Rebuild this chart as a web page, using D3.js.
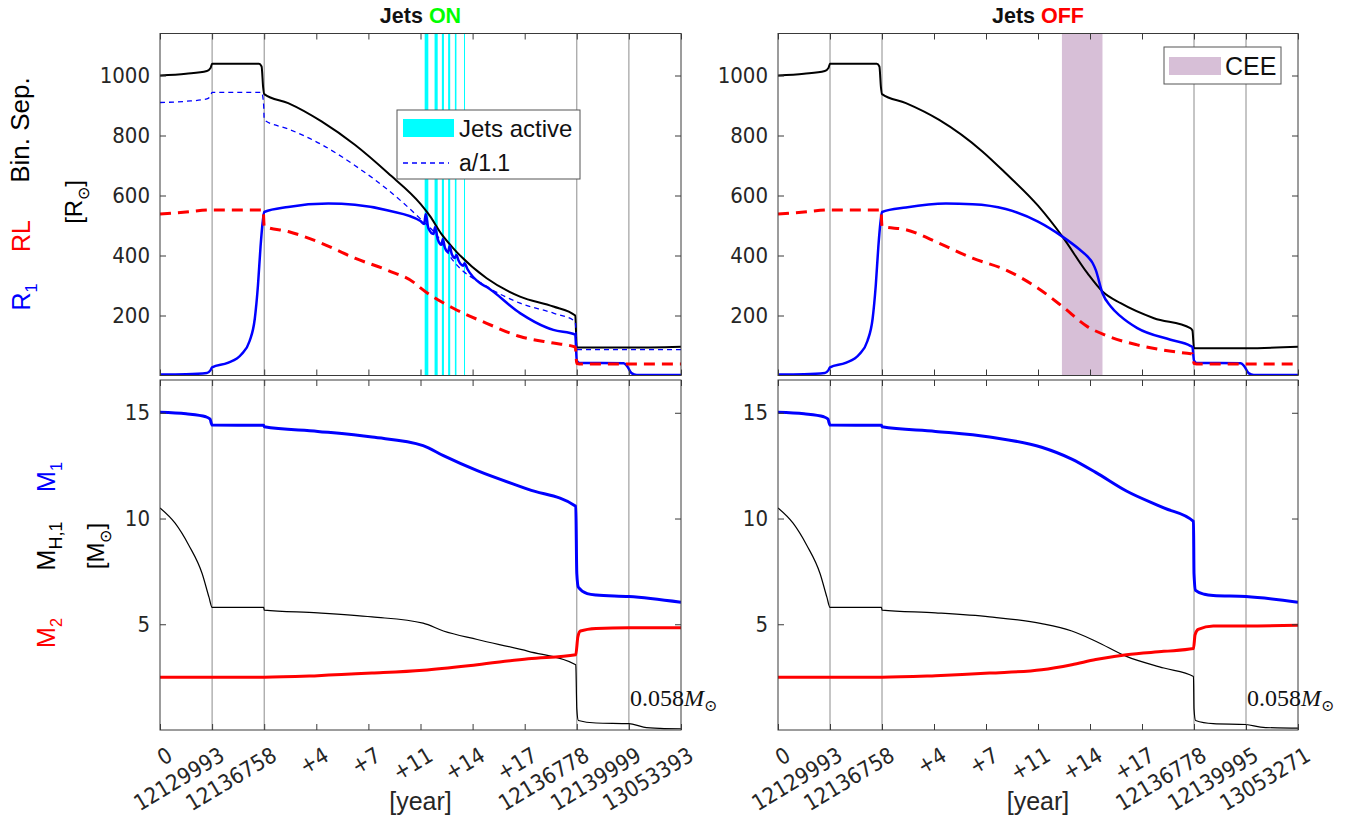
<!DOCTYPE html>
<html><head><meta charset="utf-8">
<script src="https://cdn.jsdelivr.net/npm/d3@7"></script>
<style>
body{margin:0;background:#fff;}
svg{display:block;font-family:"Liberation Sans",Arial,sans-serif;}
</style>
</head><body>
<svg id="c" width="1357" height="821"></svg>
<script>
// ---------------- data ----------------
const xTicks = [0,1,2,3,4,5,6,7,8,9,10];
const xTickLabelsOn  = ["0","12129993","12136758","+4","+7","+11","+14","+17","12136778","12139999","13053393"];
const xTickLabelsOff = ["0","12129993","12136758","+4","+7","+11","+14","+17","12136778","12139995","13053271"];
const phaseBoundaries = [1,2,8,9];
const sepTicks = [200,400,600,800,1000];
const massTicks = [5,10,15];
const jetsIntervals = [[5.08,5.15],[5.27,5.33],[5.41,5.45],[5.53,5.57],[5.66,5.69],[5.835,5.85]];
const ceeInterval = [5.46,6.24];

// Jets ON (top panel) [stage index, value]
const sepOn = [[0,1000],[0.5,1006],[0.9,1015],[0.97,1025],[1.0,1039],[1.9,1039],[1.95,1030],[1.98,960],[2.0,938],[2.46,908],[3.1,847],[3.74,769],[4.38,674],[5.0,572],[5.18,532],[5.4,472],[5.63,424],[6.27,324],[6.91,263],[7.55,230],[7.97,200],[8.0,93],[9.0,93],[10,96]];
const aOn   = [[0,910],[0.5,914],[0.9,922],[0.97,932],[1.0,944],[1.95,944],[1.99,900],[2.0,852],[2.46,822],[3.1,770],[3.74,700],[4.38,618],[5.0,522],[5.3,470],[5.63,382],[6.27,297],[6.91,241],[7.55,208],[7.97,180],[8.0,86],[10,86]];
const r1On  = [[0,3],[0.5,4],[0.9,8],[0.97,18],[1.0,27],[1.3,42],[1.56,70],[1.72,115],[1.82,190],[1.88,300],[1.93,430],[1.97,510],[2.0,545],[2.46,562],[3.23,573],[3.74,569],[4.38,550],[5.0,515],[5.07,505],[5.10,538],[5.15,492],[5.25,472],[5.28,495],[5.33,455],[5.40,436],[5.43,455],[5.47,425],[5.53,412],[5.56,432],[5.60,405],[5.66,392],[5.69,402],[5.73,383],[5.82,366],[5.845,374],[5.9,355],[6.14,308],[6.27,295],[6.91,208],[7.42,160],[7.55,152],[7.97,136],[8.0,50],[8.05,42],[8.9,41],[8.97,30],[9.05,8],[9.15,2],[10,2]];
const rlOn  = [[0,538],[0.5,545],[1.0,552],[1.98,552],[2.0,497],[2.46,480],[3.1,441],[3.74,391],[4.38,350],[4.89,308],[5.0,292],[5.63,224],[6.27,174],[6.91,130],[7.55,108],[7.97,95],[8.0,40],[8.1,38],[10,38]];
// Jets ON (bottom panel)
const m1On  = [[0,15.02],[0.5,14.95],[0.88,14.81],[0.96,14.7],[1.0,14.42],[1.99,14.41],[2.0,14.34],[3.03,14.12],[4.07,13.85],[5.05,13.45],[5.44,12.97],[6.09,12.26],[7.07,11.38],[7.98,10.58],[8.0,7.4],[8.03,6.75],[8.2,6.45],[8.37,6.38],[9.0,6.31],[10,6.04]];
const mh1On = [[0,10.5],[0.29,9.78],[0.55,8.75],[0.81,7.39],[0.94,6.28],[1.0,5.8],[1.99,5.8],[2.0,5.67],[3.03,5.54],[4.07,5.35],[5.05,5.05],[5.44,4.68],[6.09,4.28],[7.07,3.72],[7.98,3.09],[8.0,1.0],[8.03,0.45],[8.37,0.33],[9.0,0.30],[9.28,0.14],[9.6,0.08],[10,0.06]];
const m2On  = [[0,2.5],[2.0,2.5],[3.03,2.57],[4.07,2.69],[5.05,2.83],[6.09,3.09],[7.07,3.37],[7.98,3.56],[8.02,4.4],[8.07,4.68],[8.37,4.8],[9,4.84],[10,4.84]];

// Jets OFF (top panel)
const sepOff = [[0,1000],[0.5,1006],[0.9,1015],[0.97,1025],[1.0,1039],[1.9,1039],[1.95,1030],[1.98,960],[2.0,938],[2.46,908],[3.1,852],[3.93,747],[4.38,674],[5.0,566],[5.47,463],[5.95,341],[6.24,280],[6.59,241],[7.23,191],[7.93,158],[7.97,150],[8.0,91],[9.0,91],[10,96]];
const r1Off  = [[0,3],[0.5,4],[0.9,8],[0.97,18],[1.0,27],[1.3,42],[1.56,70],[1.72,115],[1.82,190],[1.88,300],[1.93,430],[1.97,510],[2.0,545],[2.46,560],[3.23,573],[3.74,571],[4.38,555],[5.0,513],[5.47,463],[5.8,420],[5.95,397],[6.05,375],[6.11,352],[6.24,274],[6.4,230],[6.59,197],[6.91,158],[7.55,119],[7.93,99],[7.97,95],[8.0,50],[8.05,42],[8.9,41],[8.97,30],[9.05,8],[9.15,2],[10,2]];
const rlOff  = [[0,538],[0.5,545],[1.0,552],[1.98,552],[2.0,497],[2.46,486],[3.1,441],[3.74,391],[4.38,352],[5.0,291],[5.47,230],[5.95,163],[6.27,136],[6.91,102],[7.87,74],[7.97,72],[8.0,40],[8.1,38],[10,38]];
// Jets OFF (bottom panel)
const m1Off  = [[0,15.02],[0.5,14.95],[0.88,14.81],[0.96,14.7],[1.0,14.42],[1.99,14.41],[2.0,14.34],[3.03,14.12],[4.07,13.85],[5.07,13.37],[5.65,12.81],[6.11,12.18],[6.7,11.3],[7.42,10.5],[7.99,9.86],[8.0,7.4],[8.03,6.6],[8.2,6.42],[8.37,6.36],[9,6.31],[10,6.04]];
const mh1Off = [[0,10.5],[0.29,9.78],[0.55,8.75],[0.81,7.39],[0.94,6.28],[1.0,5.8],[1.99,5.8],[2.0,5.67],[3.03,5.54],[4.07,5.35],[5.07,5.03],[5.65,4.68],[6.11,4.2],[6.7,3.48],[7.42,2.93],[7.99,2.53],[8.0,1.0],[8.03,0.45],[8.37,0.30],[9.0,0.26],[9.28,0.14],[9.6,0.1],[10,0.09]];
const m2Off  = [[0,2.5],[2.0,2.5],[3.03,2.57],[4.07,2.69],[5.07,2.85],[5.65,3.09],[6.11,3.33],[6.7,3.56],[7.42,3.72],[7.99,3.85],[8.02,4.5],[8.08,4.76],[8.37,4.92],[9,4.92],[10,4.95]];

const finalMassLabel = "0.058";

// ---------------- layout ----------------
const svg = d3.select("#c");
const BLUE="#0000ff", RED="#ff0000", AXC="#3a3a3a", PHASE="#8c8c8c";
const TICKFONT = "'DejaVu Sans Condensed','Liberation Sans Narrow',sans-serif";
const topRange=[375.5,33.5], botRange=[730,380];
const runs = [
  {x0:160,x1:681,state:"ON",stateColor:"#00ff00",labels:xTickLabelsOn,sep:sepOn,a:aOn,r1:r1On,rl:rlOn,m1:m1On,mh1:mh1On,m2:m2On,jets:true},
  {x0:778,x1:1298,state:"OFF",stateColor:"#ff0000",labels:xTickLabelsOff,sep:sepOff,a:null,r1:r1Off,rl:rlOff,m1:m1Off,mh1:mh1Off,m2:m2Off,jets:false}
];
const defs = svg.append("defs");

runs.forEach((run,ri)=>{
  const x = d3.scaleLinear().domain([0,10]).range([run.x0,run.x1]);
  const yS = d3.scaleLinear().domain([0,1140]).range(topRange);
  const yM = d3.scaleLinear().domain([0,16.55]).range(botRange);

  [["t",topRange],["b",botRange]].forEach(([k,r])=>{
    defs.append("clipPath").attr("id",`clip${k}${ri}`).append("rect")
      .attr("x",run.x0).attr("y",r[1]).attr("width",run.x1-run.x0).attr("height",r[0]-r[1]);
  });

  // title
  const t = svg.append("text").attr("x",(run.x0+run.x1)/2).attr("y",23)
    .attr("text-anchor","middle").attr("font-weight","bold").attr("font-size",21.5);
  t.append("tspan").attr("fill","#111").text("Jets ");
  t.append("tspan").attr("fill",run.stateColor).text(run.state);

  // --- TOP PANEL ---
  const gt = svg.append("g");
  const gtc = gt.append("g").attr("clip-path",`url(#clipt${ri})`);
  if(run.jets){
    gtc.selectAll("rect.jet").data(jetsIntervals).join("rect").attr("class","jet")
      .attr("x",d=>x(d[0])).attr("width",d=>Math.max(1,x(d[1])-x(d[0])))
      .attr("y",topRange[1]).attr("height",topRange[0]-topRange[1]).attr("fill","#00ffff");
  } else {
    gtc.append("rect").attr("x",x(ceeInterval[0])).attr("width",x(ceeInterval[1])-x(ceeInterval[0]))
      .attr("y",topRange[1]).attr("height",topRange[0]-topRange[1]).attr("fill","#d7bfd7");
  }
  gtc.selectAll("line.ph").data(phaseBoundaries).join("line").attr("class","ph")
    .attr("x1",d=>x(d)).attr("x2",d=>x(d)).attr("y1",topRange[0]).attr("y2",topRange[1])
    .attr("stroke",PHASE).attr("stroke-width",1);
  const lt = d3.line().x(d=>x(d[0])).y(d=>yS(d[1])).curve(d3.curveMonotoneX);
  gtc.append("path").attr("d",lt(run.sep)).attr("fill","none").attr("stroke","#000").attr("stroke-width",2);
  if(run.a) gtc.append("path").attr("d",lt(run.a)).attr("fill","none").attr("stroke",BLUE).attr("stroke-width",1.3).attr("stroke-dasharray","5,4");
  gtc.append("path").attr("d",lt(run.r1)).attr("fill","none").attr("stroke",BLUE).attr("stroke-width",2.5);
  gtc.append("path").attr("d",lt(run.rl)).attr("fill","none").attr("stroke",RED).attr("stroke-width",3).attr("stroke-dasharray","11,7");

  // --- BOTTOM PANEL ---
  const gb = svg.append("g");
  const gbc = gb.append("g").attr("clip-path",`url(#clipb${ri})`);
  gbc.selectAll("line.ph").data(phaseBoundaries).join("line").attr("class","ph")
    .attr("x1",d=>x(d)).attr("x2",d=>x(d)).attr("y1",botRange[0]).attr("y2",botRange[1])
    .attr("stroke",PHASE).attr("stroke-width",1);
  const lb = d3.line().x(d=>x(d[0])).y(d=>yM(d[1])).curve(d3.curveMonotoneX);
  gbc.append("path").attr("d",lb(run.mh1)).attr("fill","none").attr("stroke","#000").attr("stroke-width",1.2);
  gbc.append("path").attr("d",lb(run.m1)).attr("fill","none").attr("stroke",BLUE).attr("stroke-width",3);
  gbc.append("path").attr("d",lb(run.m2)).attr("fill","none").attr("stroke",RED).attr("stroke-width",3);

  function axes(g, y, yTicks, range){
    const ax = g.append("g").attr("class","ax");
    ax.append("g").attr("transform",`translate(${run.x0},0)`).call(d3.axisLeft(y).tickValues(yTicks).tickFormat(d3.format("d")).tickSizeInner(-6).tickSizeOuter(0).tickPadding(10));
    ax.append("g").attr("transform",`translate(${run.x1},0)`).call(d3.axisRight(y).tickValues(yTicks).tickSizeInner(-6).tickSizeOuter(0).tickFormat(""));
    ax.append("g").attr("transform",`translate(0,${range[0]})`).call(d3.axisBottom(x).tickValues(xTicks).tickSizeInner(-6).tickSizeOuter(0).tickFormat(""));
    ax.append("g").attr("transform",`translate(0,${range[1]})`).call(d3.axisTop(x).tickValues(xTicks).tickSizeInner(-6).tickSizeOuter(0).tickFormat(""));
    ax.selectAll(".domain").remove();
    ax.selectAll("line").attr("stroke",AXC);
    ax.selectAll("text").attr("font-size",22).attr("fill","#262626").attr("font-family",TICKFONT);
    g.append("rect").attr("x",run.x0).attr("y",range[1]).attr("width",run.x1-run.x0).attr("height",range[0]-range[1])
      .attr("fill","none").attr("stroke",AXC).attr("stroke-width",1);
  }
  axes(gt, yS, sepTicks, topRange);
  axes(gb, yM, massTicks, botRange);

  // x tick labels (rotated)
  svg.append("g").selectAll("text").data(run.labels).join("text")
    .attr("transform",(d,i)=>`translate(${x(xTicks[i])+10},${753}) rotate(-31)`)
    .attr("text-anchor","end").attr("dy","0.35em").attr("font-size",22)
    .attr("font-family",TICKFONT).attr("fill","#262626")
    .text(d=>d);
  svg.append("text").attr("x",(run.x0+run.x1)/2).attr("y",810).attr("text-anchor","middle")
    .attr("font-size",25).attr("fill","#262626").text("[year]");

  // final mass annotation
  const fm = svg.append("text").attr("x",x(9)+1).attr("y",706).attr("font-family","'Liberation Serif','DejaVu Serif',serif").attr("font-size",24).attr("fill","#111");
  fm.append("tspan").text(finalMassLabel);
  fm.append("tspan").attr("font-style","italic").text("M");
  fm.append("tspan").attr("font-size",16).attr("dy",5).text("⊙");

  // legends
  if(run.jets){
    const lg = svg.append("g");
    lg.append("rect").attr("x",397).attr("y",110).attr("width",183).attr("height",69).attr("fill","#fff").attr("stroke","#555");
    lg.append("rect").attr("x",403).attr("y",119).attr("width",51).attr("height",18).attr("fill","#00ffff");
    lg.append("text").attr("x",459).attr("y",137).attr("font-size",24).attr("fill","#111").text("Jets active");
    lg.append("line").attr("x1",403).attr("x2",449).attr("y1",163).attr("y2",163).attr("stroke",BLUE).attr("stroke-width",1.3).attr("stroke-dasharray","5,4");
    lg.append("text").attr("x",459).attr("y",171).attr("font-size",23).attr("fill","#111").text("a/1.1");
  } else {
    const lg = svg.append("g");
    lg.append("rect").attr("x",1164).attr("y",47).attr("width",117).attr("height",37).attr("fill","#fff").attr("stroke","#555");
    lg.append("rect").attr("x",1169).attr("y",57).attr("width",52).attr("height",18).attr("fill","#d7bfd7");
    lg.append("text").attr("x",1225).attr("y",75).attr("font-size",25).attr("fill","#111").text("CEE");
  }
});

// y axis labels (rotated)
function vlabel(xp, yp, parts, size){
  const t = svg.append("text").attr("transform",`translate(${xp},${yp}) rotate(-90)`)
    .attr("text-anchor","middle").attr("font-size",size);
  parts.forEach(p=>{
    const s = t.append("tspan").attr("fill",p.c).text(p.t);
    if(p.sub) s.attr("font-size",size*(p.scale||0.65)).attr("dy",p.dy||0);
    else if(p.dy) s.attr("dy",p.dy);
  });
  return t;
}
vlabel(29,130,[{t:"Bin. Sep.",c:"#000"}],26);
vlabel(30,236,[{t:"RL",c:RED}],25);
vlabel(30,297,[{t:"R",c:BLUE},{t:"1",c:BLUE,sub:true,dy:7}],25);
vlabel(82,202,[{t:"[R",c:"#000"},{t:"⊙",c:"#000",sub:true,dy:7},{t:"]",c:"#000",dy:-7}],24);
vlabel(55,477,[{t:"M",c:BLUE},{t:"1",c:BLUE,sub:true,dy:7}],25);
vlabel(55,546,[{t:"M",c:"#000"},{t:"H,1",c:"#000",sub:true,scale:0.72,dy:7}],25);
vlabel(104,546,[{t:"[M",c:"#000"},{t:"⊙",c:"#000",sub:true,dy:7},{t:"]",c:"#000",dy:-7}],24);
vlabel(55,633,[{t:"M",c:RED},{t:"2",c:RED,sub:true,dy:7}],25);
</script>
</body></html>
